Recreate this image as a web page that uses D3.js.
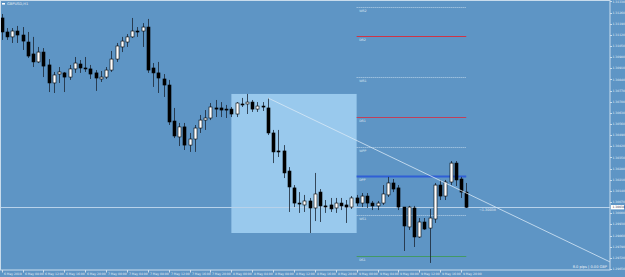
<!DOCTYPE html>
<html>
<head>
<meta charset="utf-8">
<script src="https://cdn.jsdelivr.net/npm/d3@7"></script>
<style>
  body { margin: 0; background: #5e95c5; }
  svg { display: block; font-family: "DejaVu Sans", sans-serif; }
</style>
</head>
<body>
<div id="chart"></div>
<script>
// GBPUSD,H1 bars, first bar = 6 May 2019 04:00
var open = [
  1.31226,1.31138,1.31107,1.31144,1.31119,1.31075,1.31000,1.30950,1.31012,1.30931,
  1.30818,1.30874,1.30881,1.30855,1.30906,1.30937,1.30912,1.30906,1.30881,1.30843,
  1.30855,1.30899,1.30968,1.31044,1.31075,1.31107,1.31144,1.31144,1.31169,1.30912,
  1.30881,1.30843,1.30805,1.30579,1.30479,1.30542,1.30428,1.30466,1.30535,1.30585,
  1.30598,1.30661,1.30661,1.30654,1.30654,1.30623,1.30686,1.30686,1.30698,1.30654,
  1.30673,1.30661,1.30504,1.30391,1.30391,1.30265,1.30159,1.30064,1.30052,1.30077,
  1.30033,1.30133,1.30046,1.30052,1.30033,1.30064,1.30052,1.30039,1.30096,1.30064,
  1.30108,1.30064,1.30046,1.30064,1.30115,1.30190,1.30159,1.30039,1.29914,1.30033,
  1.29851,1.29945,1.29907,1.29964,1.30177,1.30108,1.30196,1.30315,1.30215,1.30133];
var high = [
  1.31251,1.31163,1.31163,1.31176,1.31169,1.31138,1.31107,1.31044,1.31037,1.30968,
  1.30887,1.30918,1.30887,1.30931,1.30981,1.30962,1.30981,1.30931,1.30899,1.30893,
  1.30918,1.31019,1.31069,1.31107,1.31125,1.31226,1.31169,1.31194,1.31220,1.30943,
  1.30950,1.30874,1.30837,1.30661,1.30567,1.30567,1.30504,1.30554,1.30617,1.30648,
  1.30692,1.30711,1.30698,1.30680,1.30667,1.30698,1.30724,1.30749,1.30711,1.30698,
  1.30698,1.30724,1.30523,1.30523,1.30428,1.30290,1.30177,1.30133,1.30115,1.30096,
  1.30253,1.30152,1.30083,1.30096,1.30096,1.30096,1.30083,1.30108,1.30115,1.30127,
  1.30127,1.30077,1.30077,1.30177,1.30228,1.30215,1.30177,1.30039,1.30046,1.30046,
  1.29970,1.29970,1.30027,1.30190,1.30209,1.30209,1.30328,1.30328,1.30228,1.30190];
var low = [
  1.31088,1.31088,1.31069,1.31069,1.31025,1.30975,1.30918,1.30943,1.30855,1.30761,
  1.30755,1.30818,1.30761,1.30837,1.30881,1.30881,1.30887,1.30843,1.30768,1.30824,
  1.30843,1.30887,1.30950,1.31012,1.31044,1.31100,1.31107,1.31044,1.30881,1.30793,
  1.30755,1.30730,1.30554,1.30472,1.30422,1.30397,1.30385,1.30385,1.30504,1.30523,
  1.30585,1.30604,1.30604,1.30598,1.30604,1.30604,1.30667,1.30623,1.30636,1.30636,
  1.30642,1.30491,1.30315,1.30353,1.30221,1.30008,1.30039,1.30002,1.30008,1.29876,
  1.29951,1.29945,1.30002,1.30008,1.30002,1.30020,1.29939,1.30027,1.30046,1.30039,
  1.30033,1.30020,1.30020,1.30052,1.30102,1.30133,1.30020,1.29763,1.29895,1.29788,
  1.29845,1.29895,1.29688,1.29939,1.30083,1.30083,1.30177,1.30171,1.30096,1.30033];
var close = [
  1.31138,1.31107,1.31144,1.31119,1.31081,1.30987,1.30950,1.31012,1.30924,1.30818,
  1.30868,1.30887,1.30855,1.30906,1.30943,1.30912,1.30906,1.30874,1.30849,1.30855,
  1.30899,1.30968,1.31050,1.31081,1.31107,1.31144,1.31138,1.31169,1.30899,1.30881,
  1.30849,1.30805,1.30573,1.30485,1.30542,1.30428,1.30466,1.30535,1.30585,1.30598,
  1.30667,1.30654,1.30648,1.30648,1.30623,1.30692,1.30680,1.30698,1.30654,1.30673,
  1.30667,1.30504,1.30385,1.30385,1.30253,1.30165,1.30064,1.30058,1.30077,1.30033,
  1.30121,1.30046,1.30042,1.30027,1.30064,1.30046,1.30039,1.30096,1.30064,1.30108,
  1.30064,1.30046,1.30064,1.30121,1.30190,1.30152,1.30039,1.29920,1.30039,1.29851,
  1.29945,1.29901,1.29970,1.30177,1.30108,1.30196,1.30315,1.30209,1.30133,1.30038];

// time labels, one every 4 bars
var timeLabels = ["6 May 2019","6 May 08:00","6 May 12:00","6 May 16:00","6 May 20:00",
  "7 May 00:00","7 May 04:00","7 May 08:00","7 May 12:00","7 May 16:00","7 May 20:00",
  "8 May 00:00","8 May 04:00","8 May 08:00","8 May 12:00","8 May 16:00","8 May 20:00",
  "9 May 00:00","9 May 04:00","9 May 08:00","9 May 12:00","9 May 16:00","9 May 20:00"];

var priceTicks = ["1.31330","1.31260","1.31190","1.31120","1.31050","1.30980","1.30910",
  "1.30840","1.30770","1.30700","1.30630","1.30560","1.30490","1.30420","1.30350",
  "1.30280","1.30210","1.30140","1.30070","1.30000","1.29930","1.29860","1.29790",
  "1.29720","1.29650"];

// pivot levels (weekly + daily), drawn from 9 May 00:00
var pivotNames  = ["WR2","DR2","WR1","DR1","WPP","DPP","WS1","DS1"];
var pivotPrices = [1.31295,1.31113,1.30855,1.30604,1.30416,1.30234,1.29989,1.29732];
var pivotStart = 68;

// drawn objects
var boxBars = [44, 68];
var boxPrices = [1.30749, 1.29876];
var trendBars = [51, 89];
var trendPrices = [1.30724, 1.30127];
var lastPrice = 1.30038;

var width = 625, height = 277;
var plotRight = 610, plotBottom = 270;

var svg = d3.select('#chart')
  .append('svg')
  .attr('width', width)
  .attr('height', height);

var x = d3.scaleLinear().domain([0, 116.5]).range([1.7, 609.8]);
var y = d3.scaleLinear().domain([1.296437, 1.313388]).range([plotBottom, 0]);

svg.append('rect').attr('width', width).attr('height', height).attr('fill', '#5e95c5');

// selection box
svg.append('rect')
  .attr('x', x(boxBars[0]))
  .attr('y', y(boxPrices[0]))
  .attr('width', x(boxBars[1]) - x(boxBars[0]))
  .attr('height', y(boxPrices[1]) - y(boxPrices[0]))
  .attr('fill', '#99c9ed');

// pivot lines
pivotNames.forEach(function(name, i) {
  var yy = Math.round(y(pivotPrices[i])) + 0.5;
  var col = '#bcd4ea', sw = 1, dash = '1,1';
  if (name == 'DR2') { col = '#cf3446'; dash = null; }
  if (name == 'DR1') { col = '#c0405a'; dash = null; }
  if (name == 'DPP') { col = '#2f5fd6'; dash = null; sw = 2; }
  if (name == 'DS1') { col = '#3c9a4c'; dash = null; sw = 0.8; }
  svg.append('line')
    .attr('x1', x(pivotStart)).attr('x2', x(open.length - 1))
    .attr('y1', yy).attr('y2', yy)
    .attr('stroke', col).attr('stroke-width', sw)
    .attr('stroke-dasharray', dash);
  svg.append('text')
    .attr('x', x(pivotStart) + 2.5).attr('y', yy + 4.5)
    .attr('font-size', 3.2).attr('fill', '#dfe9f3')
    .text(name);
});

// last price line
svg.append('line')
  .attr('x1', 0).attr('x2', plotRight)
  .attr('y1', Math.round(y(lastPrice)) + 0.5).attr('y2', Math.round(y(lastPrice)) + 0.5)
  .attr('stroke', '#b8d2ea').attr('stroke-width', 1);

// candles
var idx = d3.range(open.length);
var candles = svg.append('g');
candles.selectAll('line')
  .data(idx).enter().append('line')
  .attr('x1', function(i) { return Math.round(x(i)) + 0.5; })
  .attr('x2', function(i) { return Math.round(x(i)) + 0.5; })
  .attr('y1', function(i) { return y(high[i]); })
  .attr('y2', function(i) { return y(low[i]); })
  .attr('stroke', '#1b2633').attr('stroke-width', 0.8);
candles.selectAll('rect')
  .data(idx).enter().append('rect')
  .attr('x', function(i) { return Math.round(x(i)) - 1; })
  .attr('width', 3)
  .attr('y', function(i) { return y(Math.max(open[i], close[i])); })
  .attr('height', function(i) { return Math.max(1, Math.abs(y(open[i]) - y(close[i]))); })
  .attr('fill', function(i) { return close[i] >= open[i] ? '#ffffff' : '#000000'; })
  .attr('stroke', '#000').attr('stroke-width', 0.6);

// trend line, extended to the right edge
var slope = (y(trendPrices[1]) - y(trendPrices[0])) / (x(trendBars[1]) - x(trendBars[0]));
svg.append('line')
  .attr('x1', x(trendBars[0])).attr('y1', y(trendPrices[0]))
  .attr('x2', plotRight).attr('y2', y(trendPrices[0]) + slope * (plotRight - x(trendBars[0])))
  .attr('stroke', '#d8e8f6').attr('stroke-width', 0.8);

svg.append('text')
  .attr('x', 479).attr('y', y(lastPrice) + 4)
  .attr('font-size', 3.4).attr('fill', '#e6eef6')
  .text('~1.30038');

// frame
svg.append('rect')
  .attr('x', 0.5).attr('y', 0.5)
  .attr('width', plotRight - 0.5).attr('height', plotBottom - 0.5)
  .attr('fill', 'none').attr('stroke', '#c9dcec').attr('stroke-width', 1);

// price axis
var yAxis = svg.append('g');
priceTicks.forEach(function(t) {
  var yy = y(+t);
  yAxis.append('line')
    .attr('x1', plotRight).attr('x2', plotRight + 2)
    .attr('y1', Math.round(yy) + 0.5).attr('y2', Math.round(yy) + 0.5)
    .attr('stroke', '#c9dcec');
  yAxis.append('text')
    .attr('x', plotRight + 2.5).attr('y', yy + 1.1)
    .attr('font-size', 3).attr('fill', '#e3ecf5')
    .text(t);
});
yAxis.append('rect')
  .attr('x', plotRight + 1).attr('y', y(lastPrice) - 2.2)
  .attr('width', 13).attr('height', 4.4).attr('fill', '#ffffff');
yAxis.append('text')
  .attr('x', plotRight + 2.5).attr('y', y(lastPrice) + 1.1)
  .attr('font-size', 3).attr('fill', '#1f3550')
  .text(lastPrice.toFixed(5));

// time axis
timeLabels.forEach(function(t, k) {
  var xx = Math.round(x(k * 4)) + 0.5;
  svg.append('line')
    .attr('x1', xx).attr('x2', xx)
    .attr('y1', plotBottom).attr('y2', plotBottom + 2.5)
    .attr('stroke', '#c9dcec');
  svg.append('text')
    .attr('x', xx + 1.5).attr('y', plotBottom + 4.8)
    .attr('font-size', 3).attr('fill', '#e3ecf5')
    .text(t);
});

// title and footer
svg.append('rect').attr('x', 2).attr('y', 3).attr('width', 3).attr('height', 1.6).attr('fill', '#fff');
svg.append('text')
  .attr('x', 7).attr('y', 5.3)
  .attr('font-size', 3.6).attr('fill', '#e6eef6')
  .text('GBPUSD,H1');

svg.append('text')
  .attr('x', 607).attr('y', 267.5)
  .attr('text-anchor', 'end')
  .attr('font-size', 3.6).attr('fill', '#eef3f8')
  .text('8.0 pips | 0.00 GBP');
</script>
</body>
</html>
